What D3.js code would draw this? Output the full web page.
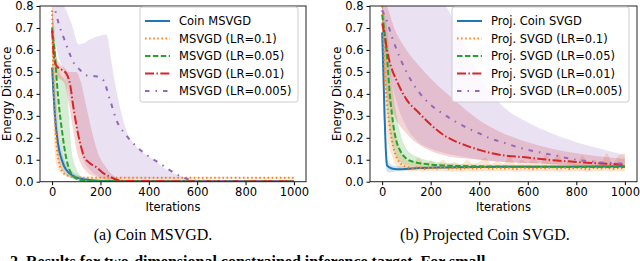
<!DOCTYPE html>
<html>
<head>
<meta charset="utf-8">
<script src="https://cdn.jsdelivr.net/npm/d3@7"></script>
<style>
  body { margin: 0; background: #fff; }
  svg { display: block; }
  .tick text { font-family: "DejaVu Sans", sans-serif; font-size: 11.5px; fill: #000; }
  .lbl { font-family: "DejaVu Sans", sans-serif; font-size: 11.5px; fill: #000; }
  .cap { font-family: "Liberation Serif", "Times New Roman", serif; font-size: 16px; fill: #000; }
</style>
</head>
<body>
<div id="chart"></div>
<script>
// tick labels
var xTicks = [0, 200, 400, 600, 800, 1000];
var yTicks = [0, 0.1, 0.2, 0.3, 0.4, 0.5, 0.6, 0.7, 0.8];

var colors = ["#1f77b4", "#ff7f0e", "#2ca02c", "#d62728", "#9467bd"];
var dashes = [null, "1.5,2.6", "5.5,2.4", "9,2.4,1.5,2.4", "4.5,6,1.5,6"];

var namesA = ["Coin MSVGD", "MSVGD (LR=0.1)", "MSVGD (LR=0.05)", "MSVGD (LR=0.01)", "MSVGD (LR=0.005)"];
var namesB = ["Proj. Coin SVGD", "Proj. SVGD (LR=0.1)", "Proj. SVGD (LR=0.05)", "Proj. SVGD (LR=0.01)", "Proj. SVGD (LR=0.005)"];

// ---- panel (a): [iteration, mean] and [iteration, low, high]
var coinMsvgdLine = [[0,0.52],[5,0.42],[10,0.33],[15,0.26],[20,0.21],[30,0.14],[40,0.10],[50,0.07],[70,0.04],[100,0.02],[140,0.01],[200,0.004],[300,0.002],[1000,0.002]];
var coinMsvgdBand = [[0,0.44,0.60],[10,0.30,0.45],[20,0.15,0.30],[30,0.08,0.20],[50,0.04,0.10],[80,0.015,0.05],[120,0.004,0.025],[160,0.002,0.012],[200,0.001,0.005],[300,0.001,0.003],[1000,0.001,0.003]];
var msvgd01Line = [[0,0.78],[5,0.5],[10,0.33],[15,0.22],[20,0.15],[30,0.08],[40,0.05],[60,0.03],[100,0.02],[150,0.018],[1000,0.018]];
var msvgd01Band = [[0,0.65,0.85],[10,0.15,0.6],[20,0.07,0.35],[30,0.05,0.18],[50,0.03,0.07],[80,0.018,0.035],[120,0.015,0.022],[1000,0.015,0.021]];
var msvgd005Line = [[0,0.70],[5,0.65],[10,0.60],[20,0.45],[30,0.33],[40,0.24],[50,0.16],[60,0.10],[70,0.06],[80,0.035],[100,0.015],[120,0.006],[150,0.003],[1000,0.002]];
var msvgd005Band = [[0,0.62,0.78],[10,0.40,0.70],[20,0.30,0.55],[30,0.20,0.50],[40,0.12,0.48],[50,0.07,0.47],[60,0.05,0.45],[70,0.03,0.30],[80,0.02,0.15],[100,0.008,0.06],[130,0.002,0.015],[160,0.001,0.004],[1000,0.001,0.003]];
var msvgd001Line = [[0,0.69],[5,0.60],[10,0.55],[20,0.525],[40,0.51],[60,0.49],[75,0.44],[88,0.34],[100,0.26],[115,0.18],[130,0.12],[155,0.085],[184,0.065],[210,0.04],[240,0.022],[270,0.008],[300,0.003],[1000,0.002]];
var msvgd001Band = [[0,0.6,0.8],[20,0.48,0.56],[50,0.45,0.52],[70,0.35,0.5],[85,0.25,0.5],[100,0.15,0.5],[120,0.08,0.45],[140,0.05,0.35],[160,0.03,0.25],[190,0.02,0.13],[220,0.008,0.07],[250,0.003,0.03],[280,0.002,0.01],[320,0.001,0.003],[1000,0.001,0.003]];
var msvgd0005Line = [[0,0.82],[10,0.79],[30,0.71],[50,0.65],[70,0.59],[90,0.54],[115,0.51],[140,0.485],[180,0.48],[210,0.465],[240,0.37],[270,0.27],[300,0.22],[335,0.175],[370,0.14],[400,0.115],[450,0.08],[490,0.05],[530,0.025],[560,0.012],[600,0.004],[1000,0.002]];
var msvgd0005Band = [[0,0.75,0.9],[20,0.6,0.85],[50,0.5,0.8],[80,0.35,0.72],[110,0.2,0.625],[130,0.1,0.63],[160,0.05,0.65],[200,0.02,0.665],[225,0.01,0.67],[245,0.006,0.55],[265,0.004,0.42],[285,0.003,0.32],[305,0.002,0.24],[340,0.002,0.17],[380,0.002,0.13],[420,0.002,0.1],[460,0.001,0.065],[520,0.001,0.03],[560,0.001,0.015],[600,0.001,0.005],[1000,0.001,0.003]];

// ---- panel (b)
var projCoinLine = [[0,0.68],[5,0.5],[10,0.3],[15,0.15],[20,0.075],[30,0.065],[50,0.058],[80,0.057],[150,0.062],[250,0.065],[400,0.067],[600,0.068],[800,0.069],[1000,0.07]];
var projCoinBand = [[0,0.6,0.75],[10,0.2,0.4],[20,0.045,0.1],[30,0.042,0.085],[50,0.045,0.072],[100,0.052,0.07],[300,0.06,0.07],[1000,0.066,0.074]];
var proj01Line = [[0,0.8],[5,0.65],[10,0.5],[20,0.36],[30,0.26],[40,0.19],[50,0.14],[60,0.11],[70,0.09],[85,0.075],[100,0.068],[125,0.062],[150,0.066],[175,0.058],[200,0.064],[225,0.06],[250,0.067],[275,0.059],[300,0.063],[325,0.057],[350,0.065],[375,0.06],[400,0.062],[425,0.066],[450,0.058],[475,0.064],[500,0.06],[525,0.063],[550,0.057],[575,0.065],[600,0.061],[625,0.058],[650,0.064],[675,0.06],[700,0.066],[725,0.059],[750,0.063],[775,0.058],[800,0.064],[825,0.06],[850,0.057],[875,0.063],[900,0.06],[925,0.065],[950,0.058],[975,0.062],[1000,0.06]];
var proj01Band = [[0,0.7,0.85],[10,0.35,0.7],[20,0.22,0.5],[40,0.12,0.3],[60,0.07,0.2],[80,0.055,0.13],[100,0.05,0.1],[125,0.048,0.085],[150,0.05,0.11],[175,0.046,0.08],[200,0.049,0.095],[225,0.047,0.078],[250,0.05,0.1],[275,0.046,0.08],[300,0.048,0.09],[325,0.045,0.077],[350,0.049,0.1],[375,0.047,0.082],[400,0.046,0.09],[425,0.05,0.11],[450,0.046,0.08],[475,0.049,0.095],[500,0.047,0.08],[525,0.05,0.12],[550,0.045,0.08],[575,0.049,0.1],[600,0.047,0.085],[625,0.046,0.11],[650,0.049,0.08],[675,0.047,0.125],[700,0.05,0.085],[725,0.046,0.13],[750,0.048,0.082],[775,0.046,0.1],[800,0.049,0.08],[825,0.047,0.12],[850,0.045,0.085],[875,0.049,0.1],[900,0.047,0.08],[925,0.05,0.13],[950,0.046,0.085],[975,0.048,0.12],[1000,0.047,0.13]];
var proj005Line = [[0,0.76],[10,0.68],[20,0.57],[30,0.42],[40,0.31],[50,0.23],[60,0.18],[75,0.14],[100,0.105],[130,0.09],[170,0.082],[200,0.078],[250,0.074],[300,0.072],[400,0.07],[600,0.068],[1000,0.067]];
var proj005Band = [[0,0.7,0.8],[20,0.35,0.7],[40,0.18,0.45],[60,0.11,0.3],[80,0.085,0.2],[100,0.075,0.15],[150,0.068,0.11],[200,0.065,0.095],[300,0.063,0.082],[500,0.062,0.076],[1000,0.061,0.073]];
var proj001Line = [[0,0.72],[10,0.67],[20,0.6],[35,0.53],[60,0.46],[100,0.375],[150,0.315],[200,0.26],[250,0.215],[300,0.185],[350,0.163],[400,0.145],[450,0.13],[500,0.12],[600,0.11],[700,0.098],[800,0.09],[900,0.083],[1000,0.078]];
var proj001Band = [[0,0.6,0.85],[20,0.4,0.8],[50,0.3,0.7],[100,0.22,0.6],[150,0.17,0.53],[200,0.14,0.47],[300,0.11,0.37],[400,0.1,0.28],[500,0.09,0.22],[600,0.085,0.18],[700,0.08,0.15],[800,0.075,0.13],[900,0.072,0.115],[1000,0.07,0.105]];
var proj0005Line = [[0,0.78],[20,0.73],[40,0.66],[60,0.6],[100,0.5],[150,0.41],[200,0.35],[250,0.31],[300,0.275],[350,0.245],[400,0.22],[450,0.195],[500,0.178],[550,0.16],[600,0.145],[700,0.122],[800,0.1],[900,0.088],[1000,0.082]];
var proj0005Band = [[0,0.7,0.9],[50,0.4,0.88],[100,0.25,0.86],[150,0.18,0.85],[200,0.15,0.83],[260,0.13,0.8],[300,0.12,0.72],[350,0.11,0.6],[400,0.1,0.48],[450,0.095,0.4],[500,0.09,0.34],[600,0.085,0.27],[700,0.08,0.22],[800,0.075,0.18],[900,0.072,0.15],[1000,0.07,0.12]];

var W = 640, H = 261;
var svg = d3.select("#chart").append("svg").attr("width", W).attr("height", H);

function panel(id, left, right, names, lines, bands, legendBox, caption, capX) {
  var top = 6, bottom = 181.7;
  var x = d3.scaleLinear().domain([-50, 1050]).range([left, right]);
  var y = d3.scaleLinear().domain([0, 0.8]).range([bottom, top]);

  svg.append("clipPath").attr("id", id)
    .append("rect").attr("x", left).attr("y", top).attr("width", right - left).attr("height", bottom - top);

  var plot = svg.append("g").attr("clip-path", "url(#" + id + ")");

  var area = d3.area()
    .x(function(d){ return x(d[0]); })
    .y0(function(d){ return y(d[1]); })
    .y1(function(d){ return y(d[2]); })
    .curve(d3.curveMonotoneX);
  var line = d3.line()
    .x(function(d){ return x(d[0]); })
    .y(function(d){ return y(d[1]); })
    .curve(d3.curveMonotoneX);

  bands.forEach(function(b, i){
    plot.append("path").attr("d", area(b))
      .attr("fill", colors[i]).attr("fill-opacity", 0.2);
  });
  lines.forEach(function(l, i){
    plot.append("path").attr("d", line(l))
      .attr("fill", "none").attr("stroke", colors[i]).attr("stroke-width", 2)
      .attr("stroke-dasharray", dashes[i]);
  });

  svg.append("g").attr("transform", "translate(0," + bottom + ")")
    .call(d3.axisBottom(x).tickValues(xTicks).tickSize(3.5).tickPadding(3).tickFormat(d3.format("d")))
    .call(function(g){ g.select(".domain").remove(); });
  svg.append("g").attr("transform", "translate(" + left + ",0)")
    .call(d3.axisLeft(y).tickValues(yTicks).tickSize(3.5).tickPadding(3).tickFormat(d3.format(".1f")))
    .call(function(g){ g.select(".domain").remove(); });

  svg.append("rect").attr("x", left).attr("y", top).attr("width", right - left).attr("height", bottom - top)
    .attr("fill", "none").attr("stroke", "#222").attr("stroke-width", 1);

  svg.append("text").attr("class", "lbl").attr("text-anchor", "middle")
    .attr("x", (left + right) / 2).attr("y", 211).text("Iterations");
  svg.append("text").attr("class", "lbl").attr("text-anchor", "middle")
    .attr("transform", "translate(" + (left - 29) + "," + ((top + bottom) / 2) + ") rotate(-90)")
    .text("Energy Distance");

  // legend
  var lg = svg.append("g");
  lg.append("rect").attr("x", legendBox[0]).attr("y", 7).attr("width", legendBox[1]).attr("height", 95)
    .attr("rx", 2.5).attr("fill", "#fff").attr("fill-opacity", 0.8).attr("stroke", "#ccc");
  names.forEach(function(n, i){
    var yy = 21 + i * 17.5;
    lg.append("line").attr("x1", legendBox[0] + 5).attr("x2", legendBox[0] + 30)
      .attr("y1", yy).attr("y2", yy)
      .attr("stroke", colors[i]).attr("stroke-width", 2).attr("stroke-dasharray", dashes[i]);
    lg.append("text").attr("class", "lbl").attr("x", legendBox[0] + 39).attr("y", yy + 4).text(n);
  });

  svg.append("text").attr("class", "cap").attr("text-anchor", "middle")
    .attr("x", capX).attr("y", 240).text(caption);
}

panel("clipA", 40, 306, namesA,
  [coinMsvgdLine, msvgd01Line, msvgd005Line, msvgd001Line, msvgd0005Line],
  [coinMsvgdBand, msvgd01Band, msvgd005Band, msvgd001Band, msvgd0005Band],
  [140, 158], "(a) Coin MSVGD.", 153);
panel("clipB", 370, 637, namesB,
  [projCoinLine, proj01Line, proj005Line, proj001Line, proj0005Line],
  [projCoinBand, proj01Band, proj005Band, proj001Band, proj0005Band],
  [452, 177], "(b) Projected Coin SVGD.", 485);

svg.append("text").attr("class", "cap").attr("x", 10).attr("y", 267)
  .attr("font-weight", "bold")
  .text("2. Results for two-dimensional constrained inference target. For small");
</script>
</body>
</html>
